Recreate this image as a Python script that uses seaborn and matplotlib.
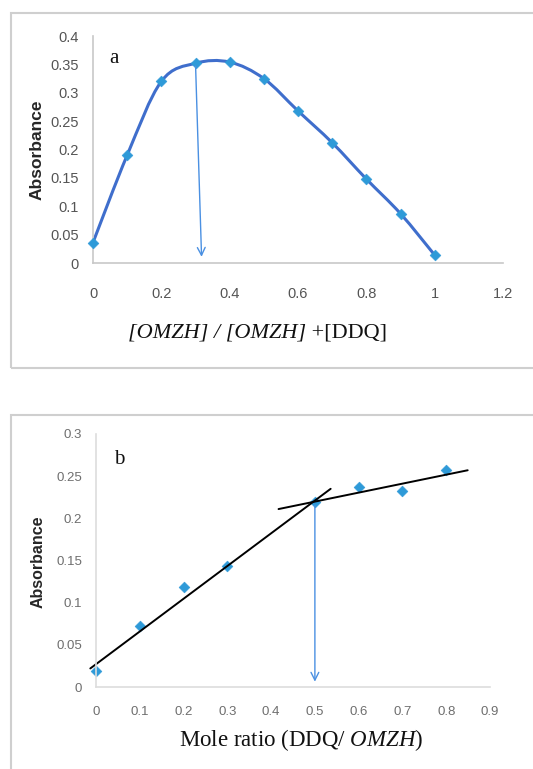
import numpy as np
import pandas as pd
import matplotlib
matplotlib.use("Agg")
import matplotlib.pyplot as plt
from matplotlib.path import Path
from matplotlib.patches import PathPatch, Rectangle
import seaborn as sns

# panel a: continuous variation (Job's plot)
job_x = [0.0, 0.1, 0.2, 0.3, 0.4, 0.5, 0.6, 0.7, 0.8, 0.9, 1.0]
job_abs = [0.036, 0.19, 0.32, 0.352, 0.354, 0.325, 0.268, 0.212, 0.148, 0.087, 0.014]
job_arrow_x = [0.3, 0.318]
job_arrow_y = [0.352, 0.006]
a_xticks = [0, 0.2, 0.4, 0.6, 0.8, 1.0, 1.2]
a_yticks = [0, 0.05, 0.1, 0.15, 0.2, 0.25, 0.3, 0.35, 0.4]

# panel b: mole ratio
mr_x = [0.0, 0.1, 0.2, 0.3, 0.5, 0.6, 0.7, 0.8]
mr_abs = [0.019, 0.072, 0.119, 0.143, 0.219, 0.237, 0.233, 0.257]
fit1_x = [-0.013, 0.536]
fit1_y = [0.022, 0.235]
fit2_x = [0.417, 0.849]
fit2_y = [0.211, 0.257]
mr_arrow_x = [0.5, 0.5]
mr_arrow_y = [0.219, 0.003]
b_xticks = [0, 0.1, 0.2, 0.3, 0.4, 0.5, 0.6, 0.7, 0.8, 0.9]
b_yticks = [0, 0.05, 0.1, 0.15, 0.2, 0.25, 0.3]

sns.set_theme(style="white")
plt.rcParams["mathtext.fontset"] = "custom"
plt.rcParams["mathtext.rm"] = "Liberation Serif"
plt.rcParams["mathtext.it"] = "Liberation Serif:italic"

marker_col = "#2E9AD8"
line_col = "#3F6ECC"
arrow_col = "#4A90E2"
tick_col = "#555555"
spine_col = "#C8C8C8"

fig = plt.figure(figsize=(5.33, 7.69), dpi=100)
W, H = 533, 769

# panel frames
fig.patches.append(Rectangle((11 / W, 1 - 368 / H), 530 / W, 355 / H, transform=fig.transFigure,
                             fill=False, edgecolor="#CFCFCF", linewidth=1.5))
fig.patches.append(Rectangle((11 / W, -0.01), 530 / W, 1 - 415 / H + 0.01, transform=fig.transFigure,
                             fill=False, edgecolor="#CFCFCF", linewidth=1.5))

ax_a = fig.add_axes([93 / W, 1 - 263 / H, 410 / W, 227 / H])
ax_b = fig.add_axes([96 / W, 1 - 687 / H, 394 / W, 253 / H])


def smooth_path(xs, ys):
    # Catmull-Rom style smoothing as cubic Bezier segments (like Excel smoothed lines)
    pts = np.column_stack([xs, ys])
    n = len(pts)
    verts = [pts[0]]
    codes = [Path.MOVETO]
    for i in range(n - 1):
        p0 = pts[i - 1] if i > 0 else pts[i]
        p1 = pts[i]
        p2 = pts[i + 1]
        p3 = pts[i + 2] if i + 2 < n else pts[i + 1]
        c1 = p1 + (p2 - p0) / 6.0
        c2 = p2 - (p3 - p1) / 6.0
        verts += [c1, c2, p2]
        codes += [Path.CURVE4] * 3
    return Path(verts, codes)


def style_axes(ax, xticks, yticks, tick_size, tick_color, xpad, xtick_len):
    for s in ["top", "right"]:
        ax.spines[s].set_visible(False)
    for s in ["left", "bottom"]:
        ax.spines[s].set_color(spine_col)
        ax.spines[s].set_linewidth(1.2)
    ax.set_xticks(xticks)
    ax.set_yticks(yticks)
    ax.set_xticklabels([f"{v:g}" for v in xticks])
    ax.set_yticklabels([f"{v:g}" for v in yticks])
    ax.tick_params(axis="x", direction="in", length=xtick_len, width=1.2, color=spine_col,
                   pad=xpad, labelsize=tick_size, labelcolor=tick_color)
    ax.tick_params(axis="y", length=0, pad=10, labelsize=tick_size, labelcolor=tick_color)
    for lab in ax.get_xticklabels() + ax.get_yticklabels():
        lab.set_family("Liberation Sans")
    ax.set_xlabel("")
    ax.set_ylabel("")


# ---- panel a ----
df_a = pd.DataFrame({"ratio": job_x, "absorbance": job_abs})
ax_a.add_patch(PathPatch(smooth_path(job_x, job_abs), fill=False, edgecolor=line_col, linewidth=2.2))
sns.scatterplot(data=df_a, x="ratio", y="absorbance", ax=ax_a, marker="D", s=30,
                color=marker_col, edgecolor=marker_col, zorder=3)
ax_a.annotate("", xy=(job_arrow_x[1], job_arrow_y[1]), xytext=(job_arrow_x[0], job_arrow_y[0]),
              arrowprops=dict(arrowstyle="->", color=arrow_col, lw=1.0, mutation_scale=14))
ax_a.set_xlim(0, 1.2)
ax_a.set_ylim(0, 0.4)
style_axes(ax_a, a_xticks, a_yticks, 10.5, tick_col, 17, 3)
ax_a.text(-0.137, 0.5, "Absorbance", transform=ax_a.transAxes, rotation=90, ha="center", va="center",
          fontsize=12.5, fontweight="bold", family="Liberation Sans", color="#262626")
# x label: italic part followed by upright part
xl_it = ax_a.text(0.085, -0.308, "[OMZH] / [OMZH]", transform=ax_a.transAxes,
                  ha="left", va="center", fontsize=16, family="Liberation Serif",
                  style="italic", color="#111111")
ax_a.annotate(" +[DDQ]", xy=(1, 0.5), xycoords=xl_it, ha="left", va="center",
              fontsize=16, family="Liberation Serif", color="#111111")
ax_a.text(0.04, 0.9, "a", transform=ax_a.transAxes, ha="left", va="center",
          fontsize=15, family="Liberation Serif", color="#111111")

# ---- panel b ----
df_b = pd.DataFrame({"ratio": mr_x, "absorbance": mr_abs})
sns.lineplot(x=fit1_x, y=fit1_y, ax=ax_b, color="black", linewidth=1.4)
sns.lineplot(x=fit2_x, y=fit2_y, ax=ax_b, color="black", linewidth=1.4)
sns.scatterplot(data=df_b, x="ratio", y="absorbance", ax=ax_b, marker="D", s=30,
                color=marker_col, edgecolor=marker_col, zorder=1)
ax_b.annotate("", xy=(mr_arrow_x[1], mr_arrow_y[1]), xytext=(mr_arrow_x[0], mr_arrow_y[0]),
              arrowprops=dict(arrowstyle="->", color=arrow_col, lw=1.0, mutation_scale=14))
ax_b.set_xlim(0, 0.9)
ax_b.set_ylim(0, 0.3)
style_axes(ax_b, b_xticks, b_yticks, 9.5, "#6E6E6E", 14, 0)
for sp in ["left", "bottom"]:
    ax_b.spines[sp].set_color("#DDDDDD")
ax_b.text(-0.147, 0.494, "Absorbance", transform=ax_b.transAxes, rotation=90, ha="center", va="center",
          fontsize=11.5, fontweight="bold", family="Liberation Sans", color="#262626")
ax_b.text(0.52, -0.209, r"Mole ratio (DDQ/ $\mathit{OMZH}$)", transform=ax_b.transAxes,
          ha="center", va="center", fontsize=16.5, family="Liberation Serif", color="#111111")
ax_b.text(0.045, 0.9, "b", transform=ax_b.transAxes, ha="left", va="center",
          fontsize=15, family="Liberation Serif", color="#111111")
for ax in (ax_a, ax_b):
    for art in ax.get_children():
        if hasattr(art, "set_clip_on"):
            art.set_clip_on(False)

fig.savefig("out.png", dpi=100)
